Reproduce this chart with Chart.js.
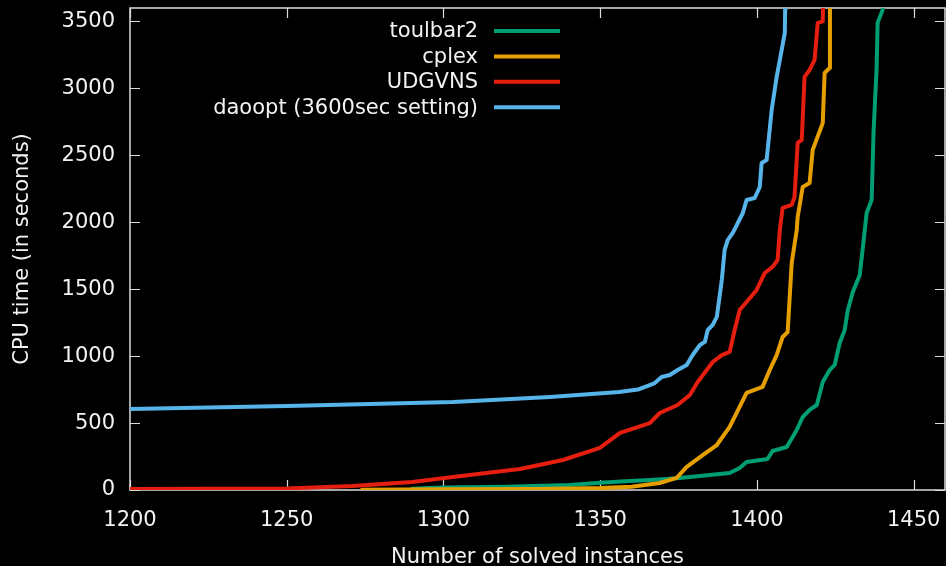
<!DOCTYPE html>
<html>
<head>
<meta charset="utf-8">
<script src="https://cdn.jsdelivr.net/npm/chart.js@4.4.1/dist/chart.umd.min.js"></script>
<style>
  html, body { margin: 0; padding: 0; background: #000; }
  canvas { display: block; }
</style>
</head>
<body>
<canvas id="grafico" width="946" height="566"></canvas>
<script>
// datos (instancias resueltas vs tiempo CPU)
const seriesLabels = ["toulbar2", "cplex", "UDGVNS", "daoopt (3600sec setting)"];
const seriesColors = ["#009e73", "#e69f00", "#e51e10", "#56b4e9"];

const toulbarN = [1290, 1300, 1320, 1340, 1350, 1358, 1366, 1375.4, 1384.9, 1391.3, 1394.5, 1396.7, 1403.4, 1405, 1409.5, 1412.7, 1414.6, 1416.8, 1419.1, 1421, 1423.2, 1424.8, 1426.4, 1428, 1429, 1430.6, 1432.8, 1433.7, 1435, 1436.6, 1437.2, 1438.2, 1438.5, 1440.1, 1440.3];
const toulbarT = [10, 18, 25, 38, 55, 65, 75, 90, 112, 127, 164, 209, 232, 291, 321, 448, 545, 598, 635, 807, 896, 934, 1098, 1195, 1345, 1479, 1606, 1793, 2069, 2166, 2667, 3160, 3489, 3586, 3700];

const cplexN = [1274, 1300, 1330, 1350, 1360, 1369, 1374.4, 1377.6, 1382.7, 1387.2, 1391.3, 1396.7, 1401.8, 1404.1, 1406.3, 1408.2, 1409.8, 1411.1, 1412.7, 1413, 1414.6, 1416.8, 1417.8, 1421, 1421.6, 1423.2, 1423.3];
const cplexT = [2, 5, 8, 15, 25, 52, 90, 172, 261, 336, 471, 725, 770, 896, 1008, 1143, 1180, 1696, 1942, 2039, 2263, 2293, 2540, 2741, 3115, 3152, 3700];

const udgvnsN = [1200, 1250, 1271, 1290, 1303, 1315, 1324.4, 1338.1, 1349.9, 1356.3, 1360, 1365.8, 1369, 1374.7, 1378.6, 1381.1, 1385.9, 1388.8, 1391.3, 1392.9, 1394.5, 1396.7, 1399.9, 1402.5, 1405, 1406.6, 1407.3, 1408.2, 1411.1, 1412, 1413, 1414.3, 1415.2, 1416.8, 1418.4, 1419.4, 1421, 1421.2];
const udgvnsT = [7, 12, 30, 60, 97, 130, 157, 224, 314, 426, 455, 500, 575, 635, 710, 807, 956, 1008, 1031, 1195, 1345, 1404, 1494, 1621, 1666, 1718, 1942, 2107, 2129, 2189, 2592, 2615, 3085, 3137, 3212, 3489, 3500, 3700];

const daooptN = [1200, 1250, 1303, 1334, 1356, 1362, 1365.8, 1367.4, 1369.6, 1372.2, 1374.7, 1377.6, 1379.5, 1381.8, 1383.4, 1384.3, 1385.9, 1387.2, 1388.8, 1389.7, 1390.7, 1392.3, 1393.9, 1395.5, 1396.7, 1399.3, 1400.9, 1401.5, 1403.1, 1404.7, 1406.3, 1407.9, 1408.9, 1409, 1409.1];
const daooptT = [605, 627, 657, 695, 732, 750, 784, 799, 844, 859, 896, 934, 1008, 1083, 1106, 1195, 1233, 1293, 1569, 1793, 1868, 1920, 1994, 2069, 2166, 2181, 2263, 2443, 2465, 2839, 3085, 3287, 3414, 3586, 3700];

const xTicks = [1200, 1250, 1300, 1350, 1400, 1450];
const yTicks = [0, 500, 1000, 1500, 2000, 2500, 3000, 3500];

const fuente = "'DejaVu Sans', sans-serif";
const colorTexto = "#f2f2f2";

function puntos(ns, ts) {
    return ns.map((n, i) => ({ x: n, y: ts[i] }));
}

// marco, marcas hacia dentro y leyenda al estilo gnuplot
const estiloGnuplot = {
    id: 'estiloGnuplot',
    beforeDraw(chart) {
        const ctx = chart.ctx;
        ctx.save();
        ctx.fillStyle = '#000';
        ctx.fillRect(0, 0, chart.width, chart.height);
        ctx.restore();
    },
    beforeDatasetsDraw(chart) {
        const { ctx, chartArea: a, scales } = chart;
        ctx.save();
        ctx.strokeStyle = '#dcdcdc';
        ctx.lineWidth = 1.5;
        ctx.strokeRect(a.left, a.top, a.right - a.left, a.bottom - a.top);
        ctx.lineWidth = 1.2;
        ctx.beginPath();
        xTicks.forEach(v => {
            const px = Math.round(scales.x.getPixelForValue(v)) + 0.5;
            ctx.moveTo(px, a.bottom); ctx.lineTo(px, a.bottom - 10);
            ctx.moveTo(px, a.top); ctx.lineTo(px, a.top + 10);
        });
        yTicks.forEach(v => {
            const py = Math.round(scales.y.getPixelForValue(v)) + 0.5;
            ctx.moveTo(a.left, py); ctx.lineTo(a.left + 10, py);
            ctx.moveTo(a.right, py); ctx.lineTo(a.right - 10, py);
        });
        ctx.stroke();
        ctx.restore();
    },
    afterDatasetsDraw(chart) {
        const ctx = chart.ctx;
        ctx.save();
        ctx.font = "21px " + fuente;
        ctx.textAlign = 'right';
        ctx.textBaseline = 'middle';
        chart.data.datasets.forEach((ds, i) => {
            const y = 31 + i * 25.4;
            ctx.fillStyle = colorTexto;
            ctx.fillText(ds.label, 478, y + 1);
            ctx.strokeStyle = ds.borderColor;
            ctx.lineWidth = 4;
            ctx.beginPath();
            ctx.moveTo(494, y);
            ctx.lineTo(560, y);
            ctx.stroke();
        });
        ctx.restore();
    }
};

const datasets = [
    puntos(toulbarN, toulbarT),
    puntos(cplexN, cplexT),
    puntos(udgvnsN, udgvnsT),
    puntos(daooptN, daooptT)
].map((data, i) => ({
    label: seriesLabels[i],
    data: data,
    borderColor: seriesColors[i],
    backgroundColor: seriesColors[i],
    borderWidth: 4,
    showLine: true,
    pointRadius: 0,
    tension: 0,
    borderJoinStyle: 'round',
    borderCapStyle: 'round',
    order: 4 - i
}));

const ctx = document.getElementById('grafico').getContext('2d');
new Chart(ctx, {
    type: 'scatter',
    data: { datasets: datasets },
    options: {
        responsive: false,
        animation: false,
        layout: { padding: { top: 8, right: 1, left: 0, bottom: 0 } },
        plugins: {
            legend: { display: false },
            tooltip: { enabled: false }
        },
        scales: {
            x: {
                type: 'linear',
                min: 1200,
                max: 1460,
                grid: { display: false, drawTicks: false },
                border: { display: false },
                afterBuildTicks: s => { s.ticks = xTicks.map(v => ({ value: v })); },
                afterFit: s => { s.height = 76; s.paddingLeft = 0; s.paddingRight = 0; },
                ticks: {
                    color: colorTexto,
                    font: { family: fuente, size: 21 },
                    padding: 18,
                    maxRotation: 0,
                    callback: v => String(v)
                },
                title: {
                    display: true,
                    text: 'Number of solved instances',
                    color: colorTexto,
                    font: { family: fuente, size: 21, lineHeight: 0.76 },
                    padding: 0
                }
            },
            y: {
                type: 'linear',
                min: 0,
                max: 3600,
                grid: { display: false, drawTicks: false },
                border: { display: false },
                afterBuildTicks: s => { s.ticks = yTicks.map(v => ({ value: v })); },
                afterFit: s => { s.width = 130; s.paddingTop = 0; s.paddingBottom = 0; },
                ticks: {
                    color: colorTexto,
                    font: { family: fuente, size: 21 },
                    padding: 15,
                    callback: v => String(v)
                },
                title: {
                    display: true,
                    text: 'CPU time (in seconds)',
                    color: colorTexto,
                    font: { family: fuente, size: 21, lineHeight: 1.2 },
                    padding: { top: 10, bottom: 0 }
                }
            }
        }
    },
    plugins: [estiloGnuplot]
});
</script>
</body>
</html>
